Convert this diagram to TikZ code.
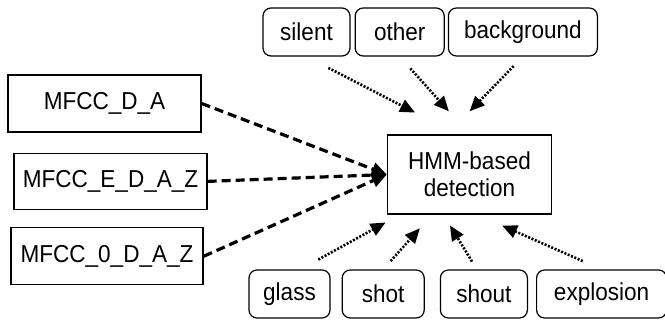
\documentclass[tikz,border=0pt]{standalone}
\usepackage{fontspec}
\setmainfont{Liberation Sans}[FakeStretch=0.92]
\usepackage{tikz}
\usetikzlibrary{shapes,arrows.meta,positioning}
\tikzstyle{feat} = [rectangle, draw=black, line width=1.4pt, text=black, text centered, font=\fontsize{24.5}{28}\selectfont, minimum height=57pt, inner sep=0pt]
\tikzstyle{evt} = [rectangle, rounded corners=8pt, draw=black, line width=1.2pt, text=black, text centered, font=\fontsize{24.5}{28}\selectfont, minimum height=48pt, inner sep=0pt]
\tikzstyle{detect} = [rectangle, draw=black, line width=1.4pt, text=black, align=center, font=\fontsize{24.5}{27}\selectfont, minimum width=164pt, minimum height=79pt, inner sep=0pt]
\tikzstyle{fedge} = [draw, line width=3.2pt, dash pattern=on 9pt off 5pt, -{Triangle[length=15pt,width=13pt]}]
\tikzstyle{eedge} = [draw, line width=2.6pt, dash pattern=on 2pt off 1.6pt, -{Triangle[length=15pt,width=13pt]}]

\begin{document}
\begin{tikzpicture}
\useasboundingbox (0,0) rectangle (665pt,-320pt);

% detector =============================
\node[detect] (hmm) at (469.5pt,-174.5pt) {HMM-based\\detection};

% features
\node[feat, minimum width=193pt] (fda) at (104.5pt,-103.5pt) {MFCC\_D\_A};
\node[feat, minimum width=193pt, minimum height=56pt, below=20pt of fda, xshift=6pt] (fedaz) {MFCC\_E\_D\_A\_Z};
\node[feat, minimum width=192pt, below=17pt of fedaz, xshift=-3.5pt] (f0daz) {MFCC\_0\_D\_A\_Z};

% events above
\node[evt, minimum width=87pt] (silent) at (306.5pt,-32pt) {silent};
\node[evt, minimum width=89pt, right=4pt of silent] (other) {other};
\node[evt, minimum width=149pt, right=3pt of other] (backgr) {background};

% events below
\node[evt, minimum width=81pt] (glass) at (289.5pt,-294pt) {glass};
\node[evt, minimum width=82pt, right=11pt of glass] (shot) {shot};
\node[evt, minimum width=87pt, right=15pt of shot] (shout) {shout};
\node[evt, minimum width=130pt, right=8pt of shout] (explos) {explosion};

% edges
\path[fedge] (fda.east) -- (hmm.west);
\path[fedge] (fedaz.east) -- (hmm.west);
\path[fedge] (f0daz.east) -- (hmm.west);
\path[eedge, shorten <=24.6pt, shorten >=47.4pt] (silent.south) -- (hmm.107);
\path[eedge, shorten <=15.9pt, shorten >=30.8pt] (other.south) -- (hmm.north);
\path[eedge, shorten <=13.3pt, shorten >=32.1pt] (backgr.south) -- (hmm.119);
\path[eedge, shorten <=20.4pt, shorten >=16.2pt] (glass.66) -- (hmm.210);
\path[eedge, shorten <=11.2pt, shorten >=18.2pt] (shot.north) -- (hmm.227);
\path[eedge, shorten <=9.2pt, shorten >=12.6pt] (shout.106) -- (hmm.237);
\path[eedge, shorten <=20.6pt, shorten >=27.1pt] (explos.north) -- (hmm.281);

\end{tikzpicture}
\end{document}
